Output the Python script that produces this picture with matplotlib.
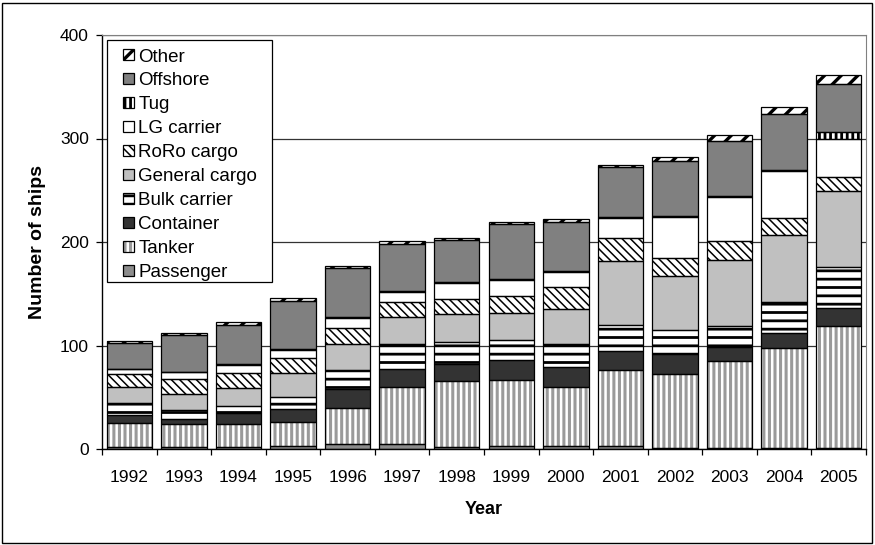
import numpy as np
import matplotlib
matplotlib.use("Agg")
import matplotlib.pyplot as plt
from matplotlib.patches import Patch, Rectangle
from matplotlib.legend_handler import HandlerPatch
from matplotlib.colors import to_rgba

plt.rcParams['font.family'] = ['Liberation Sans', 'DejaVu Sans']

years = ["1992", "1993", "1994", "1995", "1996", "1997", "1998",
         "1999", "2000", "2001", "2002", "2003", "2004", "2005"]

passenger = [2, 2, 2, 3, 4.5, 4.5, 2, 3, 3, 3, 1, 1, 1, 1]
tanker = [23, 22, 22, 23, 35, 55, 64, 64, 57, 73, 71, 84, 97, 118]
container = [8, 5, 11, 13, 18, 18, 16, 19, 19, 19, 20, 14, 14, 17]
bulk = [11, 9, 7, 11, 19, 24, 21, 19, 22, 25, 23, 20, 30, 40]
general = [16, 15, 17, 23, 25, 26, 27, 26, 34, 62, 52, 64, 65, 73]
roro = [12, 15, 14, 15, 15, 15, 15, 17, 22, 22, 18, 18, 16, 14]
lg = [5, 6, 8, 8, 10, 9, 15, 15, 14, 19, 39, 42, 46, 37]
tug = [0.5, 0.5, 1, 1, 1, 1, 1, 1, 1, 1, 1, 1, 1, 6]
offshore = [25, 36, 38, 46, 47, 46, 41, 53, 47, 48, 53, 54, 54, 47]
other = [2, 2, 2.5, 2.5, 2, 2, 2, 2, 3, 2.5, 4, 5, 6, 8]

series = [
    ("Passenger", passenger),
    ("Tanker", tanker),
    ("Container", container),
    ("Bulk carrier", bulk),
    ("General cargo", general),
    ("RoRo cargo", roro),
    ("LG carrier", lg),
    ("Tug", tug),
    ("Offshore", offshore),
    ("Other", other),
]

# face colour, hatch, hatch colour, hatch linewidth
styles = {
    "Passenger": ("#8c8c8c", None, None, 0),
    "Tanker": ("white", "|||", "#9a9a9a", 2.2),
    "Container": ("#333333", None, None, 0),
    "Bulk carrier": ("white", "--", "black", 2.0),
    "General cargo": ("#c0c0c0", None, None, 0),
    "RoRo cargo": ("white", "\\\\\\\\", "black", 1.1),
    "LG carrier": ("white", None, None, 0),
    "Tug": ("white", "|||", "black", 2.0),
    "Offshore": ("#808080", None, None, 0),
    "Other": ("white", "//", "black", 2.4),
}


def apply_hatch(p, hatch, hcolor, hlw):
    if hatch is None:
        return
    p.set_hatch(hatch)
    p._hatch_color = to_rgba(hcolor)
    if hasattr(p, "set_hatch_linewidth"):
        p.set_hatch_linewidth(hlw)
    else:
        p._hatch_linewidth = hlw


fig = plt.figure(figsize=(8.75, 5.45), dpi=100)
ax_l, ax_r, ax_t, ax_b = 102, 866, 35, 449
ax = fig.add_axes([ax_l / 875, 1 - ax_b / 545, (ax_r - ax_l) / 875, (ax_b - ax_t) / 545])
aw, ah = ax_r - ax_l, ax_b - ax_t

x = np.arange(len(years))
width = 0.83
bottom = np.zeros(len(years))

for name, vals in series:
    fc, hatch, hcolor, hlw = styles[name]
    vals = np.array(vals, dtype=float)
    plt.rcParams['hatch.linewidth'] = hlw if hlw else 1.0
    bars = ax.bar(x, vals, width, bottom=bottom, color=fc, linewidth=0, zorder=2)
    for p in bars:
        apply_hatch(p, hatch, hcolor, hlw)
    ax.bar(x, vals, width, bottom=bottom, fill=False, edgecolor="black",
           linewidth=0.9, zorder=3)
    bottom += vals

ax.set_xlim(-0.5, len(years) - 0.5)
ax.set_ylim(0, 400)
ax.set_yticks([0, 100, 200, 300, 400])
ax.yaxis.grid(True, color="#333333", linewidth=0.9, zorder=0)
ax.set_axisbelow(True)

ax.set_xticks(x)
ax.set_xticklabels(years, fontsize=12.5)
ax.set_xticks(np.arange(-0.5, len(years)), minor=True)
ax.tick_params(axis="x", which="major", length=0, pad=15)
ax.tick_params(axis="x", which="minor", length=4.5, width=0.9, direction="out")
ax.tick_params(axis="y", length=4.5, width=0.9, labelsize=12.5, pad=5)

for s in ["top", "right"]:
    ax.spines[s].set_color("#808080")
for s in ["left", "bottom"]:
    ax.spines[s].set_color("black")
    ax.spines[s].set_linewidth(1.0)

ax.set_ylabel("Number of ships", fontsize=14, fontweight="bold", labelpad=10)
ax.set_xlabel("Year", fontsize=13, fontweight="bold", labelpad=12)


def square_patch(legend, orig_handle, xdescent, ydescent, width, height, fontsize):
    s = 8.0
    return Rectangle((-xdescent + width - s, -ydescent + (height - s) / 2), s, s)


handles = []
for name, vals in series[::-1]:
    fc, hatch, hcolor, hlw = styles[name]
    h = Patch(facecolor=fc, edgecolor="black", linewidth=0.9, label=name)
    apply_hatch(h, hatch, hcolor, hlw)
    handles.append(h)

# legend box drawn separately so its size matches the original
ax.add_patch(Rectangle(((107 - ax_l) / aw, 1 - (282 - ax_t) / ah),
                       (272 - 107) / aw, (282 - 40) / ah,
                       transform=ax.transAxes, facecolor="white",
                       edgecolor="black", linewidth=0.9, zorder=4.9))

leg = ax.legend(handles=handles, loc="upper left",
                bbox_to_anchor=((113 - ax_l) / aw, 1 - (48.5 - ax_t) / ah),
                borderaxespad=0, borderpad=0,
                fontsize=13.5, frameon=False,
                handlelength=1.1, handleheight=0.6,
                handletextpad=0.25, labelspacing=0.37,
                handler_map={Patch: HandlerPatch(patch_func=square_patch)})
leg.set_zorder(5)
for h, (name, vals) in zip(leg.legend_handles, series[::-1]):
    fc, hatch, hcolor, hlw = styles[name]
    apply_hatch(h, hatch, hcolor, hlw)

fig.patches.append(Rectangle((2 / 875, 2 / 545), 870 / 875, 540 / 545,
                             transform=fig.transFigure, fill=False,
                             edgecolor="black", linewidth=1.0))

fig.savefig("out.png", dpi=100)
